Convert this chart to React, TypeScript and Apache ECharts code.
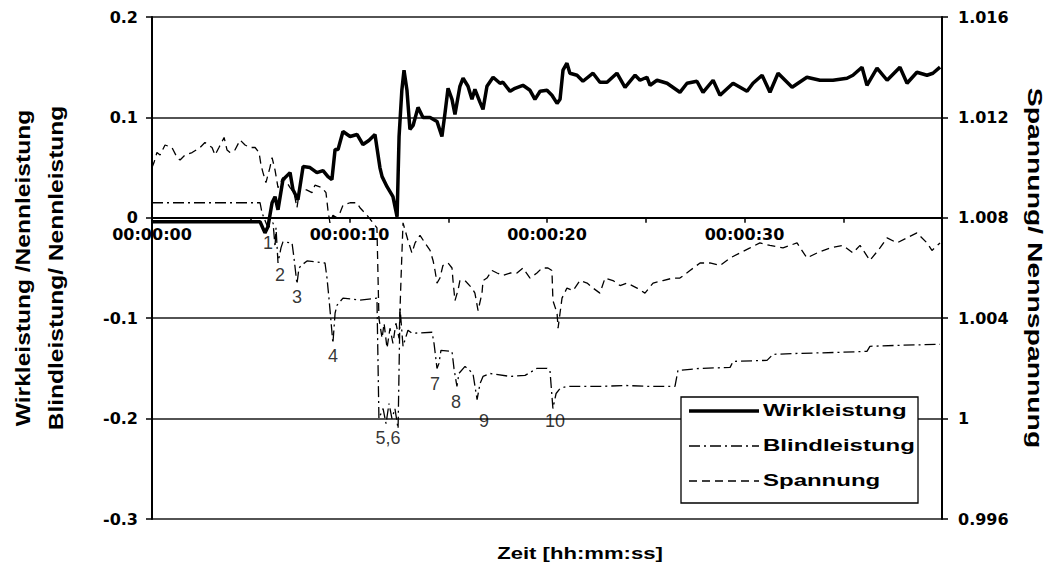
import React, { useEffect, useRef } from "react";
import * as echarts from "echarts";

// ---- Data (time in seconds) ----
const wirkleistung: [number, number][] = [
  [0, -0.004], [5.47, -0.004], [5.72, -0.015], [5.87, -0.009], [6.08, 0.015], [6.23, 0.021],
  [6.38, 0.008], [6.63, 0.038], [6.99, 0.045], [7.14, 0.028], [7.39, 0.018], [7.65, 0.051],
  [8.0, 0.05], [8.35, 0.045], [8.66, 0.047], [8.91, 0.041], [9.11, 0.038], [9.27, 0.068],
  [9.42, 0.068], [9.67, 0.086], [10.03, 0.081], [10.38, 0.083], [10.68, 0.073], [10.98, 0.077],
  [11.29, 0.083], [11.54, 0.05], [11.65, 0.041], [11.9, 0.031], [12.2, 0.021], [12.41, 0.001],
  [12.51, 0.081], [12.65, 0.127], [12.76, 0.147], [12.91, 0.127], [13.06, 0.088], [13.22, 0.092],
  [13.47, 0.11], [13.72, 0.1], [14.08, 0.1], [14.43, 0.096], [14.68, 0.081], [14.84, 0.105],
  [14.99, 0.129], [15.19, 0.118], [15.34, 0.103], [15.59, 0.131], [15.75, 0.139], [16.0, 0.131],
  [16.2, 0.118], [16.35, 0.128], [16.61, 0.115], [16.76, 0.108], [16.96, 0.131], [17.27, 0.14],
  [17.62, 0.134], [17.77, 0.135], [18.13, 0.126], [18.38, 0.129], [18.78, 0.132], [19.14, 0.127],
  [19.39, 0.118], [19.65, 0.126], [20.0, 0.127], [20.25, 0.122], [20.51, 0.114], [20.66, 0.118],
  [20.81, 0.147], [21.01, 0.154], [21.16, 0.144], [21.52, 0.142], [21.82, 0.136], [22.33, 0.144],
  [22.68, 0.135], [23.04, 0.135], [23.54, 0.144], [23.95, 0.13], [24.46, 0.142], [24.71, 0.137],
  [25.06, 0.14], [25.22, 0.132], [25.57, 0.137], [26.08, 0.134], [26.73, 0.125], [27.09, 0.134],
  [27.59, 0.136], [27.9, 0.125], [28.41, 0.137], [28.76, 0.122], [29.42, 0.134], [30.13, 0.126],
  [30.43, 0.134], [30.89, 0.142], [31.29, 0.125], [31.7, 0.144], [32.41, 0.13], [33.16, 0.14],
  [33.82, 0.137], [34.48, 0.137], [35.19, 0.139], [35.49, 0.142], [35.95, 0.15], [36.2, 0.132],
  [36.71, 0.149], [37.22, 0.137], [37.87, 0.15], [38.23, 0.134], [38.73, 0.145], [39.24, 0.142],
  [39.54, 0.144], [39.9, 0.15],
];

const blindleistung: [number, number][] = [
  [0, 0.015], [5.47, 0.015], [5.57, 0.005], [5.87, -0.01], [6.13, -0.005], [6.23, -0.029],
  [6.28, -0.01], [6.38, -0.045], [6.53, -0.03], [6.63, -0.024], [7.09, -0.025], [7.19, -0.04],
  [7.34, -0.066], [7.44, -0.05], [7.59, -0.047], [7.85, -0.043], [8.76, -0.045], [8.86, -0.06],
  [8.96, -0.08], [9.16, -0.125], [9.27, -0.095], [9.37, -0.087], [9.67, -0.08], [10.53, -0.082],
  [11.39, -0.08], [11.49, -0.2], [11.7, -0.19], [11.85, -0.205], [12.0, -0.185], [12.15, -0.2],
  [12.3, -0.19], [12.46, -0.21], [12.56, -0.09], [12.71, -0.128], [12.96, -0.112], [13.16, -0.115],
  [14.18, -0.114], [14.28, -0.125], [14.43, -0.15], [14.53, -0.145], [14.63, -0.132], [15.19, -0.133],
  [15.29, -0.15], [15.44, -0.168], [15.54, -0.155], [15.85, -0.148], [16.25, -0.155], [16.46, -0.181],
  [16.61, -0.165], [16.76, -0.158], [17.11, -0.155], [18.13, -0.158], [18.89, -0.157], [19.49, -0.15],
  [20.0, -0.15], [20.15, -0.152], [20.3, -0.19], [20.46, -0.175], [20.66, -0.17], [21.01, -0.168],
  [22.68, -0.168], [23.95, -0.167], [25.22, -0.168], [26.48, -0.168], [26.63, -0.152], [27.75, -0.15],
  [29.27, -0.149], [29.42, -0.143], [31.14, -0.142], [31.44, -0.136], [32.81, -0.135], [34.84, -0.134],
  [36.2, -0.133], [36.35, -0.128], [37.87, -0.127], [39.9, -0.126],
];

const spannung: [number, number][] = [
  [0, 1.01], [0.1, 1.0102], [0.25, 1.0106], [0.41, 1.0105], [0.66, 1.0109], [1.01, 1.0108],
  [1.27, 1.0104], [1.42, 1.0103], [1.67, 1.0105], [2.03, 1.0106], [2.43, 1.0108], [2.68, 1.011],
  [3.04, 1.0108], [3.19, 1.0105], [3.39, 1.0108], [3.65, 1.0112], [3.8, 1.0107], [3.95, 1.0106],
  [4.2, 1.0107], [4.46, 1.0111], [4.71, 1.0109], [4.96, 1.0108], [5.22, 1.0108], [5.42, 1.0106],
  [5.52, 1.0101], [5.62, 1.0098], [5.77, 1.0094], [5.97, 1.01], [6.08, 1.0104], [6.23, 1.0099],
  [6.38, 1.0092], [6.63, 1.0096], [6.84, 1.0094], [6.99, 1.0092], [7.19, 1.009], [7.34, 1.0084],
  [7.49, 1.0092], [7.85, 1.0091], [8.1, 1.009], [8.25, 1.0093], [8.61, 1.0092], [8.81, 1.009],
  [8.91, 1.0083], [9.01, 1.0078], [9.16, 1.0081], [9.37, 1.008], [9.52, 1.0082], [9.67, 1.0085],
  [10.03, 1.0086], [10.38, 1.0086], [10.53, 1.0084], [10.89, 1.0081], [11.19, 1.0078], [11.39, 1.0076],
  [11.49, 1.004], [11.65, 1.0032], [11.75, 1.0038], [11.9, 1.0028], [12.05, 1.0036], [12.2, 1.003],
  [12.35, 1.0038], [12.51, 1.0032], [12.61, 1.0056], [12.71, 1.0078], [12.96, 1.0071], [13.16, 1.0066],
  [13.32, 1.007], [13.57, 1.0073], [13.82, 1.007], [14.08, 1.0067], [14.23, 1.0063], [14.33, 1.0059],
  [14.43, 1.0054], [14.58, 1.0056], [14.73, 1.0061], [14.99, 1.0062], [15.19, 1.006], [15.24, 1.0055],
  [15.34, 1.0047], [15.49, 1.0051], [15.59, 1.0055], [15.85, 1.0055], [16.2, 1.0052], [16.35, 1.005],
  [16.51, 1.0043], [16.71, 1.005], [16.76, 1.0055], [16.96, 1.0056], [17.22, 1.0059], [17.47, 1.0058],
  [17.77, 1.0057], [18.13, 1.0058], [18.48, 1.0058], [18.78, 1.006], [19.14, 1.0056], [19.49, 1.0058],
  [19.75, 1.006], [20.05, 1.006], [20.25, 1.0059], [20.3, 1.0047], [20.51, 1.0042], [20.56, 1.0036],
  [20.76, 1.0048], [21.01, 1.0052], [21.32, 1.0051], [21.67, 1.0055], [22.03, 1.0054], [22.33, 1.0052],
  [22.68, 1.005], [22.94, 1.0056], [23.34, 1.0055], [23.7, 1.0053], [24.05, 1.0054], [24.56, 1.0052],
  [24.96, 1.005], [25.37, 1.0054], [25.87, 1.0055], [26.38, 1.0056], [26.73, 1.0056], [27.24, 1.0059],
  [27.75, 1.0062], [28.25, 1.0062], [28.76, 1.0061], [29.27, 1.0064], [29.77, 1.0066], [30.28, 1.0068],
  [30.78, 1.007], [31.29, 1.0069], [31.95, 1.0068], [32.66, 1.007], [33.16, 1.0064], [33.67, 1.0066],
  [34.33, 1.0068], [34.99, 1.0069], [35.49, 1.0066], [35.85, 1.0069], [36.35, 1.0063], [36.86, 1.0068],
  [37.22, 1.0072], [37.72, 1.007], [38.23, 1.0072], [38.73, 1.0074], [39.24, 1.007], [39.49, 1.0067],
  [39.9, 1.007],
];

// Event annotations: [time, left-axis value, label]
const events: [number, number, string][] = [
  [5.87, -0.025, "1"], [6.48, -0.057, "2"], [7.34, -0.079, "3"], [9.16, -0.138, "4"],
  [11.95, -0.219, "5,6"], [14.33, -0.166, "7"], [15.39, -0.183, "8"], [16.81, -0.202, "9"],
  [20.41, -0.202, "10"],
];

const legendNames = ["Wirkleistung", "Blindleistung", "Spannung"];
const xTitle = "Zeit [hh:mm:ss]";
const yLeftTitle = ["Wirkleistung /Nennleistung", "Blindleistung/ Nennleistung"];
const yRightTitle = "Spannung/ Nennspannung";

const FONT = '"Liberation Sans", Arial, sans-serif';
const TICK_FONT = '"DejaVu Sans", "Liberation Sans", sans-serif';
const DASH_DOT = [11, 4, 2, 4];
const DASH = [8, 5];
const Y_MIN = -0.3;

function fmtTime(v: number): string {
  if (Math.abs(v % 10) > 1e-6 || v >= 40) return "";
  return "00:00:" + String(Math.round(v)).padStart(2, "0");
}

function txt(text: string, x: number, y: number, size: number, opts: any = {}) {
  return {
    type: "text", x, y, rotation: opts.rotation || 0, scaleX: opts.scaleX || 1, z: opts.z || 50,
    style: {
      text, font: `bold ${size}px ${FONT}`, fill: "#000",
      textAlign: opts.align || "center", align: opts.align || "center",
      textVerticalAlign: "middle", verticalAlign: "middle",
    },
  };
}

export default function App() {
  const ref = useRef<HTMLDivElement>(null);
  useEffect(() => {
    if (!ref.current) return;
    const chart = echarts.init(ref.current, undefined, { renderer: "svg" });
    const labelStyle = { color: "#000", fontWeight: "bold" as const, fontSize: 16, fontFamily: TICK_FONT };
    const legendY = [411, 446, 481];
    const legendDash: any[] = [null, DASH_DOT, DASH];
    const legendWidth = [3.5, 1.3, 1.3];
    const graphic: any[] = [
      {
        type: "rect", shape: { x: 681, y: 397, width: 237, height: 106 },
        style: { fill: "#fff", stroke: "#000", lineWidth: 1.3 }, z: 100,
      },
    ];
    legendNames.forEach((n, i) => {
      graphic.push({
        type: "line", shape: { x1: 689, y1: legendY[i], x2: 759, y2: legendY[i] },
        style: { stroke: "#000", lineWidth: legendWidth[i], lineDash: legendDash[i] }, z: 101,
      });
      graphic.push(txt(n, 763, legendY[i], 16, { align: "left", scaleX: 1.5, z: 101 }));
    });
    graphic.push(
      txt(yLeftTitle[0], 23, 268, 21, { rotation: Math.PI / 2, scaleX: 1.17 }),
      txt(yLeftTitle[1], 56, 268, 21, { rotation: Math.PI / 2, scaleX: 1.17 }),
      txt(yRightTitle, 1036, 268, 21, { rotation: -Math.PI / 2, scaleX: 1.35 }),
      txt(xTitle, 580, 553, 17, { scaleX: 1.3 })
    );

    chart.setOption({
      animation: false,
      backgroundColor: "#fff",
      grid: { left: 152, right: 108, top: 17, bottom: 53, containLabel: false },
      xAxis: {
        type: "value", min: 0, max: 40, interval: 5, offset: 0,
        axisLine: { show: true, onZero: false, lineStyle: { color: "#000", width: 2 } },
        axisTick: { show: true, length: 5, lineStyle: { color: "#000", width: 1.5 } },
        axisLabel: { ...labelStyle, margin: 9, formatter: fmtTime, showMinLabel: true, showMaxLabel: true, hideOverlap: false },
        splitLine: { show: false },
      },
      yAxis: [
        {
          type: "value", min: Y_MIN, max: 0.2, interval: 0.1, position: "left",
          axisLine: { show: true, onZero: false, lineStyle: { color: "#000", width: 2 } },
          axisTick: { show: true, length: 6, lineStyle: { color: "#000", width: 1.5 } },
          axisLabel: { ...labelStyle, margin: 14, formatter: (v: number) => String(Math.round(v * 10) / 10) },
          splitLine: { show: true, lineStyle: { color: "#1a1a1a", width: 1.6 } },
        },
        {
          type: "value", min: 0.996, max: 1.016, interval: 0.004, position: "right",
          axisLine: { show: true, onZero: false, lineStyle: { color: "#000", width: 2 } },
          axisTick: { show: true, length: 6, lineStyle: { color: "#000", width: 1.5 } },
          axisLabel: { ...labelStyle, margin: 16, formatter: (v: number) => String(Math.round(v * 1000) / 1000) },
          splitLine: { show: false },
        },
      ],
      series: [
        {
          name: legendNames[1], type: "line", yAxisIndex: 0, data: blindleistung, symbol: "none",
          lineStyle: { color: "#000", width: 1.3, type: DASH_DOT }, z: 3,
        },
        {
          name: legendNames[2], type: "line", yAxisIndex: 1, data: spannung, symbol: "none",
          lineStyle: { color: "#000", width: 1.3, type: DASH }, z: 3,
        },
        {
          name: legendNames[0], type: "line", yAxisIndex: 0, data: wirkleistung, symbol: "none",
          lineStyle: { color: "#000", width: 3.5, type: "solid" }, z: 4,
        },
        {
          name: "events", type: "scatter", yAxisIndex: 0, data: events, symbolSize: 1,
          itemStyle: { color: "rgba(0,0,0,0)" }, z: 5,
          label: {
            show: true, position: "inside", formatter: (p: any) => p.data[2],
            color: "#000", fontSize: 18, fontFamily: FONT, fontWeight: "normal", textBorderWidth: 0,
          },
        },
      ],
      graphic,
    });

    // Place the time axis on the zero line of the left axis (using the axis scale).
    const yZero = chart.convertToPixel({ yAxisIndex: 0 }, 0) as unknown as number;
    const yBottom = chart.convertToPixel({ yAxisIndex: 0 }, Y_MIN) as unknown as number;
    if (isFinite(yZero) && isFinite(yBottom)) {
      chart.setOption({ xAxis: { offset: yZero - yBottom } });
    }
    return () => chart.dispose();
  }, []);
  return <div ref={ref} style={{ position: "absolute", left: 0, top: 0, width: 1050, height: 572 }} />;
}
